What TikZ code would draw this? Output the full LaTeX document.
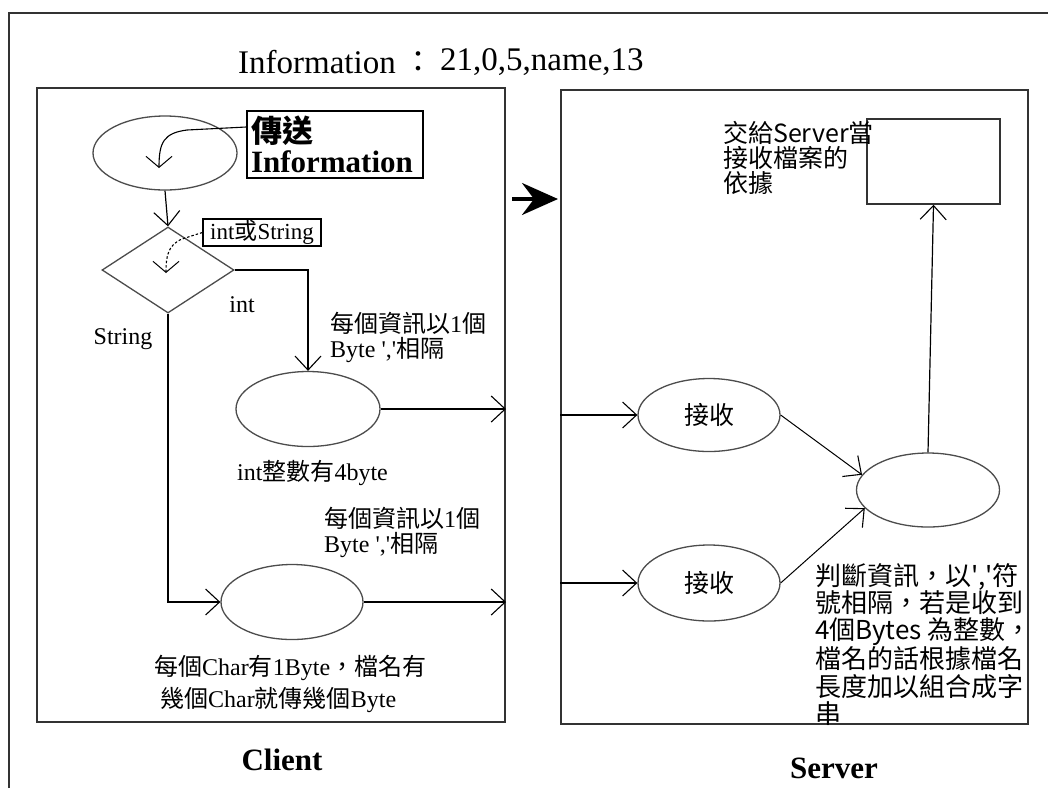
\documentclass[tikz,border=0pt]{standalone}
\usepackage{fontspec}
\setmainfont{Liberation Serif}
\newfontfamily\cjk{Noto Sans CJK TC}
\usetikzlibrary{arrows.meta,shapes.geometric,calc}
\newcommand\myfs[2]{\fontsize{#1}{#2}\selectfont}
\tikzset{
  boxframe/.style={draw=black!80, line width=2pt},
  oval/.style={ellipse, draw=black!70, line width=1.3pt, fill=white, inner sep=0pt},
  arr/.style={draw=black, line width=1.2pt, -{Straight Barb[length=14pt,width=26pt,line width=1.1pt]}},
  hookarr/.style={draw=black, line width=1.1pt, -{Straight Barb[length=11pt,width=26pt,line width=1pt]}},
  lbl/.style={inner sep=0pt, align=left, font=\myfs{24}{25}},
  slbl/.style={inner sep=0pt, align=left, font={\cjk\myfs{25}{25}}},
  bigttl/.style={inner sep=0pt, font={\bfseries\myfs{31}{31}}},
}
\begin{document}
\begin{tikzpicture}[x=1pt,y=-1pt]
\useasboundingbox (0,0) rectangle (1048,788);
% outer frame (cut by the page)
\draw[line width=2pt, draw=black!80] (9,788) -- (9,13) -- (1048,13);
% title
\node[anchor=west, inner sep=0pt, font=\myfs{33}{33}] (t1) at (238,62) {Information};
\node[inner sep=0pt, font={\cjk\myfs{30}{30}}] (t2) at (418,62) {：};
\node[anchor=west, inner sep=0pt, font=\myfs{33}{33}] (t3) at (440,62) {21,0,5,name,13};
% boxes
\node[boxframe, minimum width=468pt, minimum height=634pt, inner sep=0pt] (client) at (271,405) {};
\node[boxframe, minimum width=467pt, minimum height=634pt, inner sep=0pt] (server) at (794.5,407) {};
% big arrow
\coordinate (bas) at (512,199);
\draw[line width=3.5pt, shorten >=2pt, -{Stealth[length=36pt,width=32pt,inset=12pt]}] (bas) -- (bas -| server.west);
% client side
\node[oval, minimum width=144pt, minimum height=74pt] (e0) at (165,153) {};
\node[draw=black, line width=1.5pt, minimum width=176pt, minimum height=67pt, inner sep=3pt, align=left, text width=168pt, font={\bfseries\myfs{31}{30}}] (infobox) at (335,144.5) {{\cjk\bfseries 傳送}\\Information};
\coordinate (h1b) at (159,168);
\draw[hookarr] ([yshift=17.5pt]infobox.west) -- (187,130) .. controls (164,133) and (159,142) .. (h1b);
\node[diamond, draw=black!70, line width=1.3pt, fill=white, minimum width=132pt, minimum height=86pt, inner sep=0pt] (d) at (168,270) {};
\draw[arr] (e0.south) -- (d.north);
\node[draw=black, line width=1.3pt, fill=white, minimum width=118pt, minimum height=27pt, inner sep=1pt, font=\myfs{23}{23}] (typebox) at (262,232.5) {int{\cjk 或}String};
\coordinate (h2b) at (166,273);
\draw[hookarr, dash pattern=on 2.5pt off 2pt] (typebox.west) -- (182,239) .. controls (168,245) and (166,256) .. (h2b);
\node[oval, minimum width=144pt, minimum height=75pt] (e1) at (308,409) {};
\node[oval, minimum width=142pt, minimum height=75pt] (e2) at (292,602) {};
\draw[arr] (d.east) -| (e1.north);
\draw[arr] (d.south) |- (e2.west);
\draw[arr] (e1.east) -- (e1.east -| client.east);
\draw[arr] (e2.east) -- (e2.east -| client.east);
\node[lbl] (lint) at (242,305) {int};
\node[lbl] (lstr) at (123,339) {String};
\node[lbl, anchor=west] (n1) at (330,337) {{\cjk 每個資訊以}1{\cjk 個}\\Byte \textquotesingle,\textquotesingle{\cjk 相隔}};
\node[lbl, anchor=west] (n4) at (237,473) {int{\cjk 整數有}4byte};
\node[lbl, anchor=west] (n2) at (324,532) {{\cjk 每個資訊以}1{\cjk 個}\\Byte \textquotesingle,\textquotesingle{\cjk 相隔}};
\node[lbl, anchor=west, font=\myfs{24}{32}] (n3) at (154,684) {{\cjk 每個}Char{\cjk 有}1Byte{\cjk ，檔名有}\\\hspace{6pt}{\cjk 幾個}Char{\cjk 就傳幾個}Byte};
\node[bigttl] (lc) at (282,760) {Client};
% server side
\node[draw=black!80, line width=1.5pt, minimum width=133pt, minimum height=85pt, inner sep=0pt] (rect) at (933.5,161.5) {};
\node[slbl, anchor=west] (s1) at (723,158) {交給Server當\\接收檔案的\\依據};
\node[oval, minimum width=142pt, minimum height=73pt, font={\cjk\myfs{25}{25}}] (r1) at (709,415) {接收};
\node[oval, minimum width=142pt, minimum height=76pt, font={\cjk\myfs{25}{25}}] (r2) at (709,583) {接收};
\node[oval, minimum width=143pt, minimum height=74pt] (big) at (928,490) {};
\draw[arr] (r1.west -| server.west) -- (r1.west);
\draw[arr] (r2.west -| server.west) -- (r2.west);
\draw[arr, line width=1pt] (r1.east) -- (big.167);
\draw[arr, line width=1pt] (r2.east) -- (big.196);
\draw[arr] (big.north) -- (rect.south);
\node[slbl, anchor=west, font={\cjk\myfs{26}{27.4}}] (s2) at (815,644.5) {判斷資訊，以\textquotesingle,\textquotesingle 符\\號相隔，若是收到\\4個Bytes 為整數，\\檔名的話根據檔名\\長度加以組合成字\\串};
\node[bigttl] (ls) at (834,768) {Server};
\end{tikzpicture}
\end{document}
